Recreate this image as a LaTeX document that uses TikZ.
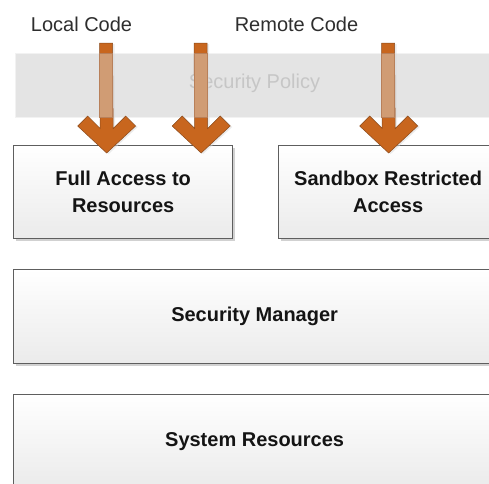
\documentclass[tikz,border=0pt]{standalone}
\usepackage{fontspec}
\setmainfont{Liberation Sans}
\usetikzlibrary{shadows,calc}

\definecolor{arroworange}{HTML}{C8661E}
\definecolor{arrowedge}{HTML}{8A4A1C}
\definecolor{shafttan}{HTML}{D09C74}
\definecolor{shaftedge}{HTML}{B8805A}
\definecolor{bandgray}{HTML}{E4E4E4}
\definecolor{policytext}{HTML}{C6C6C6}
\definecolor{boxedge}{HTML}{5E5E5E}

\tikzset{
  layerbox/.style={draw=boxedge, line width=1.3pt, top color=white, bottom color=black!8,
    drop shadow={shadow xshift=2.5pt, shadow yshift=-2.5pt, fill=black!18, opacity=1},
    font=\fontsize{20}{26.7}\selectfont\bfseries, text=black!92, align=center,
    anchor=north west, inner sep=0pt},
  codelabel/.style={font=\fontsize{20}{24}\selectfont, text=black!82},
  policyband/.style={fill=bandgray, draw=black!5, anchor=north west, inner sep=0pt},
}

% thick arrow with a chevron head: #1 = top of shaft, #2 = tip
\newcommand\heavyarrow[2]{%
  \fill[arroworange, draw=arrowedge, line width=0.5pt,
        drop shadow={shadow xshift=2pt, shadow yshift=-1pt, fill=black!15}]
    ($(#1)+(-6.5,0)$) -- ($(#1)+(6.5,0)$) -- ($(#2)+(6.5,-24.5)$) -- ($(#2)+(19,-37)$)
    -- ($(#2)+(29,-27)$) -- (#2) -- ($(#2)+(-29,-27)$) -- ($(#2)+(-19,-37)$)
    -- ($(#2)+(-6.5,-24.5)$) -- cycle;
  % part of the shaft seen through the policy band
  \fill[shafttan, draw=shaftedge, line width=0.5pt]
    ($(#1)+(-6.5,10)$) rectangle ($(#1)+(6.5,74)$);
}

\begin{document}
\begin{tikzpicture}[x=1pt,y=-1pt]
  \clip (0,0) rectangle (489,483);
  \fill[white] (0,0) rectangle (489,483);

  % security policy band
  \node[policyband, minimum width=484pt, minimum height=64pt] (policy) at (15,53) {};
  \node[text=policytext, font=\fontsize{20}{24}\selectfont] (policytxt) at (254.5,83) {Security Policy};

  % code sources
  \node[codelabel] (local) at (81.5,24.5) {Local Code};
  \node[codelabel] (remote) at (296.5,24.5) {Remote Code};

  % layers
  \node[layerbox, minimum width=219pt, minimum height=93pt] (full) at (13,145) {Full Access to\\Resources};
  \node[layerbox, minimum width=219pt, minimum height=93pt] (sandbox) at (278,145) {Sandbox Restricted\\Access};
  \node[layerbox, minimum width=482pt, minimum height=94pt] (manager) at (13,269) {Security Manager};
  \node[layerbox, minimum width=482pt, minimum height=94pt] (resources) at (13,394) {System Resources};

  % arrow ends
  \coordinate (l1) at (106,43);
  \coordinate (l2) at (200.5,43);
  \coordinate (r1) at (388,43);
  \coordinate (l1tip) at ($(full.north)+(-16.5,8)$);
  \coordinate (l2tip) at ($(full.north)+(78,8)$);
  \coordinate (r1tip) at ($(sandbox.north)+(0.5,8)$);

  \heavyarrow{l1}{l1tip}
  \heavyarrow{l2}{l2tip}
  \heavyarrow{r1}{r1tip}
\end{tikzpicture}
\end{document}
